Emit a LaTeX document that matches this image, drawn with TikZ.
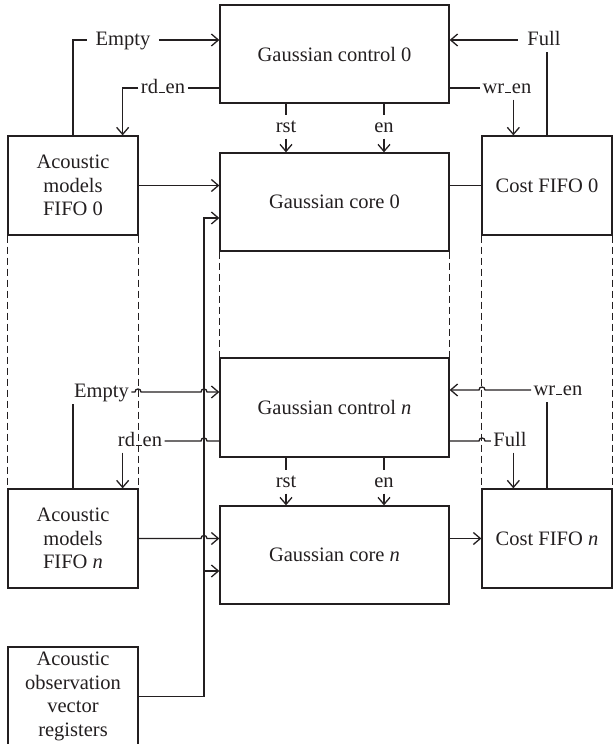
\documentclass[tikz,border=0pt]{standalone}
\usepackage{fontspec}
\setmainfont{Liberation Serif}
\usetikzlibrary{arrows.meta,calc}
\definecolor{ink}{HTML}{231F20}
% underscore drawn as a short bar sitting on the baseline
\newcommand\usbar{\kern0.6pt\rule{6.5pt}{1.5pt}\kern0.6pt}
\begin{document}
\begin{tikzpicture}[x=1pt,y=-1pt,line width=1.3pt,color=ink,
  every node/.style={font=\fontsize{20.5}{23.5}\selectfont,text=ink},
  box/.style={draw,rectangle,minimum width=229pt,minimum height=98pt,align=center,inner sep=0pt},
  fifo/.style={box,minimum width=130pt,minimum height=99pt},
  lbl/.style={inner xsep=2pt,inner ysep=2pt,text height=14pt,text depth=4pt},
  sig/.style={-{Straight Barb[length=7pt,width=12pt]}},
  seam/.style={dash pattern=on 7pt off 4pt},
  hopr/.style 2 args={insert path={-- (#1-3,#2) .. controls (#1-3,#2-4) and (#1+3,#2-4) .. (#1+3,#2)}},
  hopl/.style 2 args={insert path={-- (#1+3,#2) .. controls (#1+3,#2-4) and (#1-3,#2-4) .. (#1-3,#2)}}]
\useasboundingbox (0,0) rectangle (613,744);

% processing blocks
\node[box] (ctrl0) at (334.5,54) {Gaussian control 0};
\node[box] (core0) at (334.5,202) {Gaussian core 0};
\node[box,minimum height=99pt] (ctrlN) at (334.5,407.5) {Gaussian control \textit{n}};
\node[box] (coreN) at (334.5,555) {Gaussian core \textit{n}};

% FIFOs and registers
\node[fifo] (am0) at (73,185.5) {Acoustic\\models\\FIFO 0};
\node[fifo] (amN) at (73,538.5) {Acoustic\\models\\FIFO \textit{n}};
\node[fifo] (obs) at (73,696.5) {Acoustic\\observation\\vector\\registers};
\node[fifo] (cost0) at (547,185.5) {Cost FIFO 0};
\node[fifo] (costN) at (547,538.5) {Cost FIFO \textit{n}};

% elided stages
\draw[seam] (am0.south west) -- (amN.north west);
\draw[seam] (am0.south east) -- (amN.north east);
\draw[seam] (core0.south west) -- (ctrlN.north west);
\draw[seam] (core0.south east) -- (ctrlN.north east);
\draw[seam] (cost0.south west) -- (costN.north west);
\draw[seam] (cost0.south east) -- (costN.north east);

% signal labels
\node[lbl,inner xsep=8pt] (e0) at (123,40) {Empty};
\node[lbl] (rd0) at (163,88) {rd\usbar en};
\node[lbl] (rst0) at (286,127) {rst};
\node[lbl] (en0) at (384,127) {en};
\node[lbl,inner xsep=9pt] (f0) at (544,40) {Full};
\node[lbl] (wr0) at (507,88) {wr\usbar en};
\node[lbl] (eN) at (101.5,392) {Empty};
\node[lbl] (rdN) at (140,441) {rd\usbar en};
\node[lbl] (wrN) at (558,390) {wr\usbar en};
\node[lbl] (fN) at (510,441) {Full};
\node[lbl] (rstN) at (286,482) {rst};
\node[lbl] (enN) at (384,482) {en};

% connection points
\coordinate (rdin0) at ([xshift=-16pt]am0.north east);
\coordinate (rdinN) at ([xshift=-16pt]amN.north east);
\coordinate (wrin0) at ([xshift=32pt]cost0.north west);
\coordinate (wrinN) at ([xshift=32pt]costN.north west);
\coordinate (busTop) at (204,218);
\coordinate (busN) at (204,571);

% stage 0 control
\draw (am0.north) |- (e0.west);
\draw[sig] (e0.east) -- (e0.east -| ctrl0.west);
\draw (rd0.east -| ctrl0.west) -- (rd0.east);
\draw[sig] (rd0.west) -| (rdin0);
\draw (rst0.north |- ctrl0.south) -- (rst0.north);
\draw[sig] (rst0.south) -- (rst0.south |- core0.north);
\draw (en0.north |- ctrl0.south) -- (en0.north);
\draw[sig] (en0.south) -- (en0.south |- core0.north);
\draw (cost0.north) -- (cost0.north |- f0.south);
\draw[sig] (f0.west) -- (f0.west -| ctrl0.east);
\draw (wr0.west -| ctrl0.east) -- (wr0.west);
\draw[sig] (wr0.south -| wrin0) -- (wrin0);

% stage n control
\draw (amN.north) -- (amN.north |- eN.south);
\draw[sig] (eN.east) [hopr={138}{392}] [hopr={204}{392}] -- (eN.east -| ctrlN.west);
\draw (rdN.east -| ctrlN.west) [hopl={204}{441}] -- (rdN.east);
\draw[sig] (rdN.south -| rdinN) -- (rdinN);
\draw (rstN.north |- ctrlN.south) -- (rstN.north);
\draw[sig] (rstN.south) -- (rstN.south |- coreN.north);
\draw (enN.north |- ctrlN.south) -- (enN.north);
\draw[sig] (enN.south) -- (enN.south |- coreN.north);
\draw (costN.north) -- (costN.north |- wrN.south);
\draw[sig] (wrN.west) [hopl={482}{390}] -- (wrN.west -| ctrlN.east);
\draw (fN.west -| ctrlN.east) [hopr={482}{441}] -- (fN.west);
\draw[sig] (fN.south -| wrinN) -- (wrinN);

% data paths
\draw[sig] (am0.east) -- (am0.east -| core0.west);
\draw (cost0.west) -- (cost0.west -| core0.east);
\draw[sig] (obs.east) -| (busTop) -- (busTop -| core0.west);
\draw[sig] (busN) -- (busN -| coreN.west);
\draw[sig] (amN.east) [hopr={204}{538.5}] -- (amN.east -| coreN.west);
\draw[sig] (costN.west -| coreN.east) -- (costN.west);
\end{tikzpicture}
\end{document}
